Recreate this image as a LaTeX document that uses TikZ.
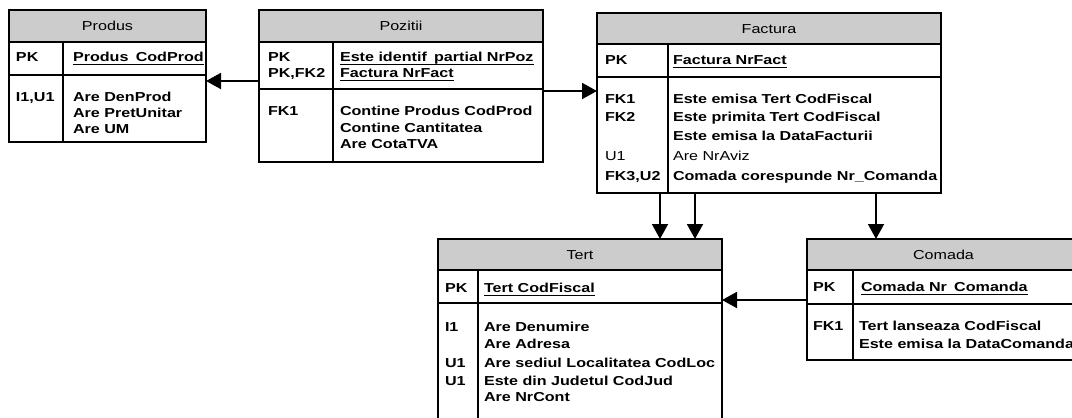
\documentclass[tikz,border=0pt]{standalone}
\usepackage{fontspec}
\setmainfont{Liberation Sans}[FakeStretch=1.24]
\usetikzlibrary{arrows.meta,fit}
\tikzset{
  hdr/.style={fill=black!20},
  box/.style={draw, line width=1.9pt, inner sep=0pt, outer sep=0pt},
  ln/.style={line width=1.9pt},
  txt/.style={inner sep=0pt, outer sep=0pt, text height=9.4pt, text depth=0pt, anchor=west, font=\fontsize{13pt}{15pt}\selectfont\bfseries},
  reg/.style={txt, font=\fontsize{13pt}{15pt}\selectfont\mdseries},
  ttl/.style={reg, anchor=center},
  arr/.style={line width=1.9pt, -{Triangle[length=15pt,width=16pt]}},
}
\newsavebox\ulxbox
\newcommand\ulx[1]{\sbox\ulxbox{#1}\rlap{\rule[-3.3pt]{\wd\ulxbox}{1.5pt}}\usebox\ulxbox}
\newcommand\ertable[9]{%
  \fill[hdr] (#2,#3) rectangle (#4,#6);
  \node[box, fit={(#2,#3) (#4,#5)}] (#1) {};
  \draw[ln] (#2,#6) -- (#4,#6);
  \draw[ln] (#2,#7) -- (#4,#7);
  \draw[ln] (#8,#6) -- (#8,#5);
  \node[ttl] (#1-title) at ({(#2+#4)/2},{(#3+#6)/2}) {#9};
}
\begin{document}
\begin{tikzpicture}[x=1pt,y=-1pt]
\useasboundingbox (0,0) rectangle (1072,418);
\clip (0,0) rectangle (1072,418);

% Produs
\ertable{produs}{9}{10}{206}{142}{42}{75}{63}{Produs}
\node[txt] (produs-k1) at (16,57) {PK};
\node[txt] (produs-a1) at (73,57) {\ulx{Produs\hspace{0.556em}CodProd}};
\node[txt] (produs-k2) at (16,97) {I1,U1};
\node[txt] (produs-a2) at (73,97) {Are DenProd};
\node[txt] (produs-a3) at (73,113) {Are PretUnitar};
\node[txt] (produs-a4) at (73,129) {Are UM};

% Pozitii
\ertable{pozitii}{259}{10}{543}{162}{42}{89}{333}{Pozitii}
\node[txt] (pozitii-k1) at (268,57) {PK};
\node[txt] (pozitii-k2) at (268,73) {PK,FK2};
\node[txt] (pozitii-k3) at (268,111) {FK1};
\node[txt] (pozitii-a1) at (340,57) {\ulx{Este identif\hspace{0.556em}partial NrPoz}};
\node[txt] (pozitii-a2) at (340,73) {\ulx{Factura NrFact}};
\node[txt] (pozitii-a3) at (340,111) {Contine Produs CodProd};
\node[txt] (pozitii-a4) at (340,127.5) {Contine Cantitatea};
\node[txt] (pozitii-a5) at (340,144) {Are CotaTVA};

% Factura
\ertable{factura}{597}{13}{941}{193}{44}{77}{668}{Factura}
\node[txt] (factura-k1) at (605,60) {PK};
\node[txt] (factura-k2) at (605,98.5) {FK1};
\node[txt] (factura-k3) at (605,116.5) {FK2};
\node[reg] (factura-k4) at (605,156) {U1};
\node[txt] (factura-k5) at (605,175.5) {FK3,U2};
\node[txt] (factura-a1) at (673,60) {\ulx{Factura NrFact}};
\node[txt] (factura-a2) at (673,98.5) {Este emisa Tert CodFiscal};
\node[txt] (factura-a3) at (673,116.5) {Este primita Tert CodFiscal};
\node[txt] (factura-a4) at (673,136) {Este emisa la DataFacturii};
\node[reg] (factura-a5) at (673,156) {Are NrAviz};
\node[txt] (factura-a6) at (673,175.5) {Comada corespunde Nr\_Comanda};

% Tert
\ertable{tert}{438}{239}{722}{430}{270}{303}{478}{Tert}
\node[txt] (tert-k1) at (445,288) {PK};
\node[txt] (tert-k2) at (445,327) {I1};
\node[txt] (tert-k3) at (445,363) {U1};
\node[txt] (tert-k4) at (445,381) {U1};
\node[txt] (tert-a1) at (484,288) {\ulx{Tert CodFiscal}};
\node[txt] (tert-a2) at (484,327) {Are Denumire};
\node[txt] (tert-a3) at (484,344) {Are Adresa};
\node[txt] (tert-a4) at (484,363) {Are sediul Localitatea CodLoc};
\node[txt] (tert-a5) at (484,381) {Este din Judetul CodJud};
\node[txt] (tert-a6) at (484,397) {Are NrCont};

% Comada
\ertable{comada}{807}{239}{1080}{360}{270}{304}{853}{Comada}
\node[txt] (comada-k1) at (813,287) {PK};
\node[txt] (comada-k2) at (813,325.5) {FK1};
\node[txt] (comada-a1) at (861,287) {\ulx{Comada Nr\hspace{0.556em}Comanda}};
\node[txt] (comada-a2) at (859,325.5) {Tert lanseaza CodFiscal};
\node[txt] (comada-a3) at (859,344) {Este emisa la DataComanda};

% Connectors
\draw[arr] (pozitii.west |- 0,81) -- (produs.east |- 0,81);
\draw[arr] (pozitii.east |- 0,91) -- (factura.west |- 0,91);
\draw[arr] (factura.south -| 660,0) -- (tert.north -| 660,0);
\draw[arr] (factura.south -| 695,0) -- (tert.north -| 695,0);
\draw[arr] (factura.south -| 876,0) -- (comada.north -| 876,0);
\draw[arr] (comada.west |- 0,300) -- (tert.east |- 0,300);
\end{tikzpicture}
\end{document}
